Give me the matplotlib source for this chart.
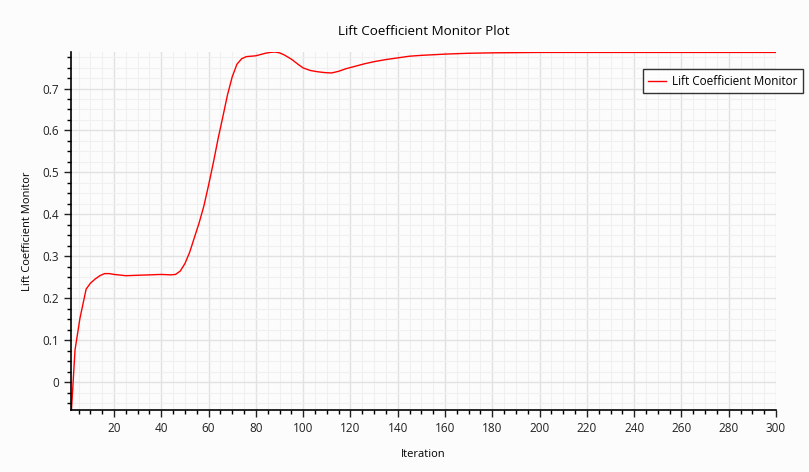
import matplotlib.pyplot as plt
from matplotlib.ticker import MultipleLocator

# values
iteration = [2, 3.5, 5.6, 8.2, 10, 12, 14, 16, 18, 20, 25, 30, 35, 40, 44, 46, 48,
             50, 52, 54, 56, 58, 60, 62, 64, 66, 68, 70, 72, 74, 76, 78, 80, 82,
             84, 86, 88, 90, 92, 95, 98, 100, 103, 106, 109, 112, 115, 118, 122,
             126, 130, 135, 140, 145, 150, 160, 170, 180, 200, 220, 250, 300]
lift = [-0.066, 0.077, 0.153, 0.222, 0.236, 0.246, 0.254, 0.259, 0.259, 0.257,
        0.254, 0.255, 0.256, 0.257, 0.256, 0.257, 0.265, 0.283, 0.31, 0.345,
        0.38, 0.42, 0.47, 0.523, 0.58, 0.632, 0.685, 0.728, 0.758, 0.771,
        0.776, 0.777, 0.778, 0.781, 0.784, 0.786, 0.787, 0.785, 0.78, 0.77,
        0.757, 0.749, 0.743, 0.740, 0.738, 0.737, 0.741, 0.747, 0.753, 0.759,
        0.764, 0.769, 0.773, 0.777, 0.779, 0.782, 0.784, 0.785, 0.786, 0.786,
        0.786, 0.786]

plt.rcParams['font.family'] = ['Open Sans', 'DejaVu Sans']

fig = plt.figure(figsize=(8.09, 4.72), dpi=100, facecolor='#fcfcfc')
ax = fig.add_axes([71/809, 62/472, 705/809, 358/472])
ax.set_facecolor('#fcfcfc')

ax.plot(iteration, lift, color='red', linewidth=1.0, label='Lift Coefficient Monitor')

ax.set_xlim(1.8, 300)
ax.set_ylim(-0.066, 0.787)
ax.xaxis.set_major_locator(MultipleLocator(20))
ax.xaxis.set_minor_locator(MultipleLocator(5))
ax.yaxis.set_major_locator(MultipleLocator(0.1))
ax.yaxis.set_minor_locator(MultipleLocator(0.025))
ax.yaxis.set_major_formatter(plt.FuncFormatter(lambda v, p: '0' if abs(v) < 1e-9 else f'{v:.1f}'))

ax.grid(which='major', color='#e2e2e2', linewidth=1.0)
ax.grid(which='minor', color='#f0f0f0', linewidth=0.8)
ax.set_axisbelow(True)

for s in ['top', 'right']:
    ax.spines[s].set_visible(False)
ax.spines['left'].set_linewidth(1.2)
ax.spines['bottom'].set_linewidth(1.2)
ax.tick_params(which='major', length=5, width=1, labelsize=8.5, colors='#222222')
ax.tick_params(which='minor', length=3, width=1)

ax.set_title('Lift Coefficient Monitor Plot', fontsize=9.6, pad=12)
ax.set_xlabel('Iteration', fontsize=8, labelpad=10)
ax.set_ylabel('Lift Coefficient Monitor', fontsize=8, labelpad=7)

leg = fig.legend(loc='upper right', bbox_to_anchor=(805/809, 1 - 67/472), fontsize=8.5,
                 frameon=True, fancybox=False, borderpad=0.45, handlelength=1.5,
                 handletextpad=0.5, borderaxespad=0.2)
leg.get_frame().set_edgecolor('black')
leg.get_frame().set_linewidth(1.0)

fig.savefig('out.png', dpi=100, facecolor=fig.get_facecolor())
